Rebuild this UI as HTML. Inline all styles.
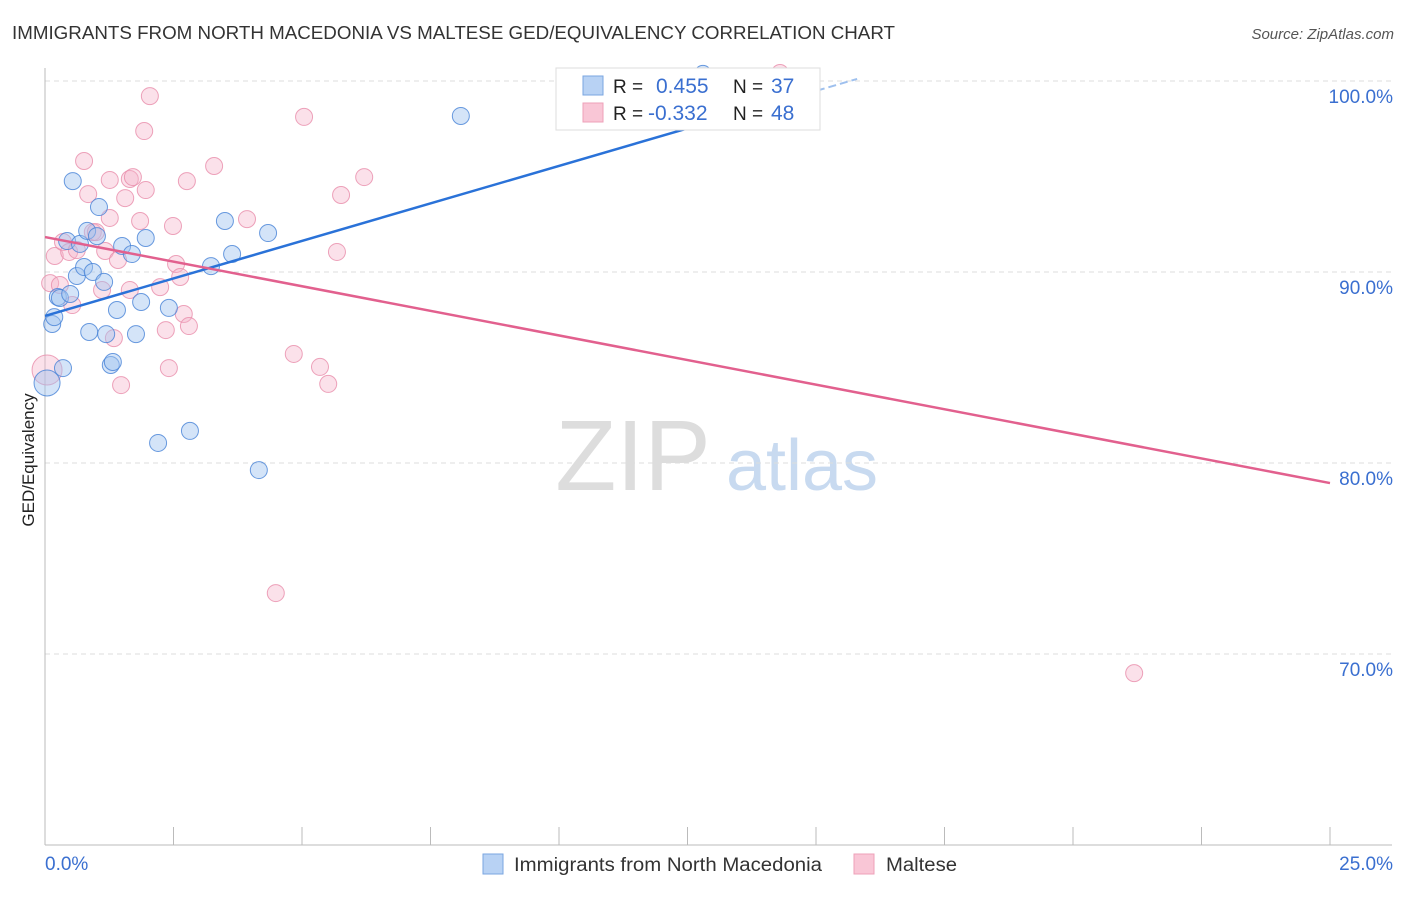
<!DOCTYPE html>
<html><head><meta charset="utf-8"><style>
body{margin:0;background:#fff;font-family:"Liberation Sans",sans-serif;}
svg text{font-family:"Liberation Sans",sans-serif;}
</style></head><body>
<svg id="c" width="1406" height="892">
<text x="12" y="39" font-size="18" fill="#333" textLength="883" lengthAdjust="spacingAndGlyphs">IMMIGRANTS FROM NORTH MACEDONIA VS MALTESE GED/EQUIVALENCY CORRELATION CHART</text>
<text x="1394" y="39" font-size="15" fill="#555" font-style="italic" text-anchor="end">Source: ZipAtlas.com</text>
<text x="34" y="460" font-size="17" fill="#222" text-anchor="middle" transform="rotate(-90 34 460)">GED/Equivalency</text>
<g><text x="633" y="490" font-size="100" fill="#ddd" text-anchor="middle" font-family="Liberation Serif">ZIP</text><text x="802" y="490" font-size="72" fill="#c8daf0" text-anchor="middle">atlas</text></g>
<g id="grid"></g><g id="axes"></g><g id="pts"></g><g id="trend"></g>
<g>
<rect x="556" y="68" width="264" height="62" fill="#fff" stroke="#ddd"/>
<rect x="583" y="76" width="20" height="19" fill="#b8d2f4" stroke="#7aa6e0"/>
<rect x="583" y="103" width="20" height="19" fill="#f9c6d6" stroke="#eea0b8"/>
<text x="613" y="93" font-size="19" fill="#222">R = </text><text x="656" y="93" font-size="21" fill="#3a6fd0">0.455</text>
<text x="733" y="93" font-size="19" fill="#222">N = </text><text x="771" y="93" font-size="21" fill="#3a6fd0">37</text>
<text x="613" y="120" font-size="19" fill="#222">R = </text><text x="648" y="120" font-size="21" fill="#3a6fd0">-0.332</text>
<text x="733" y="120" font-size="19" fill="#222">N = </text><text x="771" y="120" font-size="21" fill="#3a6fd0">48</text>
</g>
<g>
<rect x="483" y="854" width="20" height="20" fill="#b8d2f4" stroke="#7aa6e0"/>
<text x="514" y="871" font-size="19" fill="#333" textLength="308" lengthAdjust="spacingAndGlyphs">Immigrants from North Macedonia</text>
<rect x="854" y="854" width="20" height="20" fill="#f9c6d6" stroke="#eea0b8"/>
<text x="886" y="871" font-size="19" fill="#333" textLength="71" lengthAdjust="spacingAndGlyphs">Maltese</text>
</g>
</svg>
<script>
const xTicksLabels=["0.0%","25.0%"];
const yTickValues=[100,90,80,70];
const blueX=[0.04,0.14,0.18,0.25,0.29,0.35,0.43,0.49,0.54,0.62,0.68,0.76,0.82,0.86,0.93,1.01,1.05,1.15,1.19,1.28,1.32,1.40,1.50,1.69,1.77,1.87,1.96,2.20,2.41,2.82,3.23,3.50,3.64,4.16,4.34,8.09,12.80];
const blueY=[84.19,87.28,87.64,88.69,88.64,84.97,91.62,88.85,94.76,89.79,91.47,90.26,92.15,86.86,90.0,91.88,93.40,89.48,86.75,85.13,85.29,88.01,91.36,90.94,86.75,88.43,91.78,81.05,88.12,81.68,90.31,92.67,90.94,79.63,92.04,98.17,100.37];
const pinkX=[0.04,0.10,0.19,0.35,0.47,0.53,0.62,0.76,0.84,0.93,0.99,1.11,1.17,1.26,1.34,1.42,1.48,1.56,1.65,1.71,1.85,1.93,1.96,2.04,2.24,2.35,2.41,2.49,2.55,2.63,2.70,2.76,2.80,3.29,3.93,4.84,5.04,5.35,5.51,5.68,5.76,6.21,4.49,21.19,14.30,0.29,1.65,1.26];
const pinkY=[84.87,89.42,90.84,91.57,91.05,88.27,91.15,95.81,94.08,92.09,92.09,89.06,91.10,92.83,86.54,90.63,84.08,93.87,94.87,94.97,92.67,97.38,94.29,99.21,89.21,86.96,84.97,92.41,90.42,89.74,87.80,94.76,87.17,95.55,92.77,85.71,98.12,85.03,84.14,91.05,94.03,94.97,73.19,69.0,100.42,89.32,89.06,94.82];
const blueTrend=[87.7,100.0,15.66];
const pinkTrend=[91.83,78.95];
const X=v=>45+v/25*1285, Y=v=>81+(100-v)*19.1;
const NS="http://www.w3.org/2000/svg";
function mk(t,p,a){const e=document.createElementNS(NS,t);for(const k in a)e.setAttribute(k,a[k]);document.getElementById(p).appendChild(e);return e;}
yTickValues.forEach(v=>{
 const l=mk('line','grid',{x1:45,x2:1392,y1:Y(v),y2:Y(v),stroke:'#ddd','stroke-dasharray':'5,4'});
 
 
 const t=mk('text','grid',{x:1393,y:Y(v)+22,'font-size':19,fill:'#3a6fd0','text-anchor':'end'});t.textContent=v.toFixed(1)+'%';
 
 
});
mk('line','axes',{x1:45,x2:45,y1:68,y2:845,stroke:'#bbb'});
mk('line','axes',{x1:45,x2:1392,y1:845,y2:845,stroke:'#bbb'});
for(let i=0;i<=10;i++){const x=X(i*2.5);const tk=mk('line','axes',{x1:x,x2:x,y1:827,y2:845,stroke:'#bbb'});
 
 }
const t0=mk('text','axes',{x:45,y:870,'font-size':19,fill:'#3a6fd0'});t0.textContent=xTicksLabels[0];


const t1=mk('text','axes',{x:1393,y:870,'font-size':19,fill:'#3a6fd0','text-anchor':'end'});t1.textContent=xTicksLabels[1];


pinkX.forEach((v,i)=>{const c=mk('circle','pts',{cx:X(v),cy:Y(pinkY[i]),r:i==0?15:8.5,fill:'rgba(246,180,202,0.4)',stroke:'rgba(232,140,170,0.8)','stroke-width':1});
 
 });
blueX.forEach((v,i)=>{const c=mk('circle','pts',{cx:X(v),cy:Y(blueY[i]),r:i==0?13:8.5,fill:'rgba(160,196,240,0.45)',stroke:'rgba(70,130,215,0.8)','stroke-width':1});
 
 });
const bs=(blueTrend[1]-blueTrend[0])/blueTrend[2];
const bl=mk('line','trend',{x1:X(0),y1:Y(blueTrend[0]),x2:X(13),y2:Y(blueTrend[0]+bs*13),stroke:'#2a72d8','stroke-width':2.5});


const bd=mk('line','trend',{x1:X(13),y1:Y(blueTrend[0]+bs*13),x2:X(15.8),y2:Y(blueTrend[0]+bs*15.8),stroke:'#9ec0ee','stroke-width':2,'stroke-dasharray':'8,4'});


const pl=mk('line','trend',{x1:X(0),y1:Y(pinkTrend[0]),x2:X(25),y2:Y(pinkTrend[1]),stroke:'#e2608e','stroke-width':2.5});


</script>
</body></html>
